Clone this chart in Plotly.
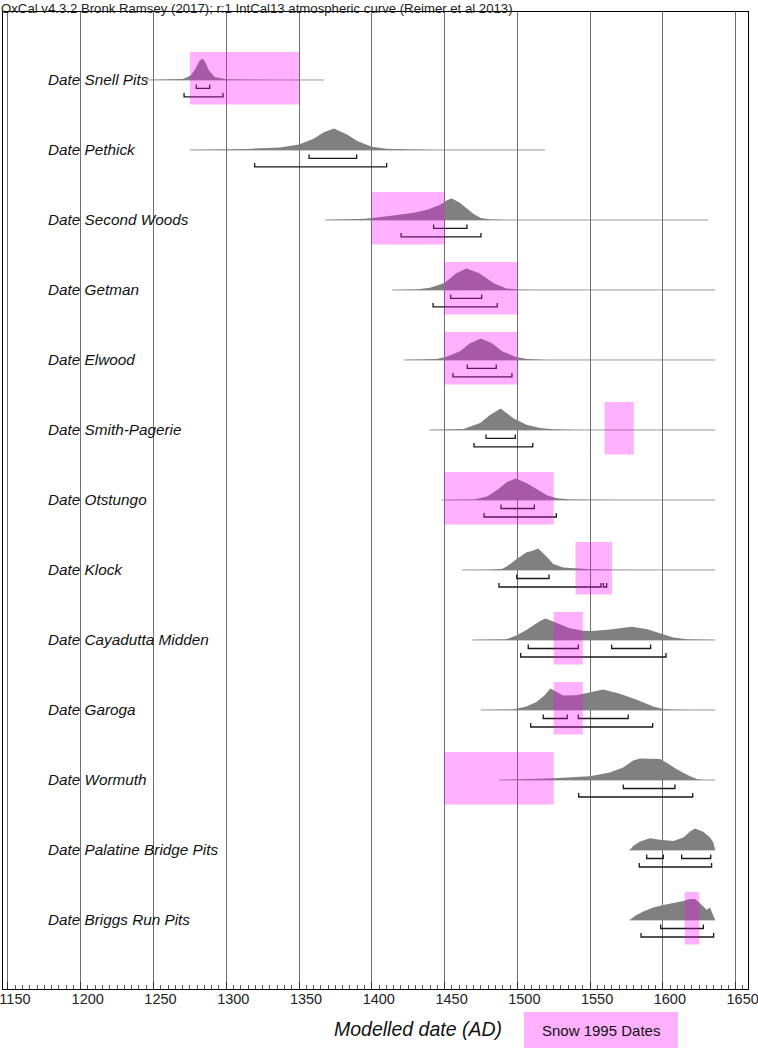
import plotly.graph_objects as go

# ---------------- data ----------------
sites = ["Snell Pits", "Pethick", "Second Woods", "Getman", "Elwood", "Smith-Pagerie",
         "Otstungo", "Klock", "Cayadutta Midden", "Garoga", "Wormuth",
         "Palatine Bridge Pits", "Briggs Run Pits"]

# modelled probability densities (relative to each peak)
snell_years = [1245, 1261, 1270, 1275.5, 1279, 1281.5, 1283.5, 1285.5, 1288, 1292, 1300, 1315, 1330]
snell_dens = [0, 0.01, 0.04, 0.2, 0.55, 0.88, 1.0, 0.85, 0.45, 0.14, 0.03, 0.01, 0]
pethick_years = [1275, 1300, 1314, 1337, 1350, 1360, 1367, 1374, 1383, 1390, 1400, 1410, 1425, 1445]
pethick_dens = [0, 0.02, 0.05, 0.12, 0.26, 0.52, 0.83, 1.0, 0.72, 0.42, 0.15, 0.06, 0.02, 0]
second_woods_years = [1368, 1385, 1395, 1405, 1418, 1428, 1438, 1447, 1452, 1455, 1460, 1465, 1470, 1475, 1482, 1492]
second_woods_dens = [0, 0.02, 0.06, 0.13, 0.22, 0.32, 0.48, 0.71, 0.93, 1.0, 0.82, 0.55, 0.28, 0.09, 0.02, 0]
getman_years = [1414, 1430, 1440, 1450, 1458, 1465, 1474, 1483.5, 1492.5, 1502, 1512]
getman_dens = [0, 0.02, 0.1, 0.33, 0.78, 1.0, 0.78, 0.33, 0.07, 0.01, 0]
elwood_years = [1422, 1435, 1444.6, 1451.4, 1460.6, 1467.5, 1475, 1482.6, 1489.5, 1498.6, 1506.5, 1520]
elwood_dens = [0, 0.01, 0.05, 0.15, 0.4, 0.78, 1.0, 0.78, 0.4, 0.15, 0.04, 0]
smith_years = [1440, 1455, 1463, 1474.4, 1481.2, 1488.6, 1497.2, 1506.4, 1515.6, 1524.7, 1540]
smith_dens = [0, 0.01, 0.05, 0.32, 0.7, 1.0, 0.55, 0.24, 0.09, 0.03, 0]
otstungo_years = [1450, 1462, 1470.3, 1479.5, 1486.3, 1493.2, 1499, 1506.9, 1513.8, 1520.6, 1527.5, 1536.6, 1550, 1570]
otstungo_dens = [0, 0.005, 0.02, 0.17, 0.47, 0.85, 1.0, 0.77, 0.47, 0.21, 0.08, 0.02, 0.005, 0]
klock_years = [1462, 1480, 1489.8, 1493.2, 1499.1, 1506.4, 1510, 1514.4, 1520.2, 1524.7, 1531.6, 1540.8, 1550, 1565, 1580]
klock_dens = [0, 0.01, 0.06, 0.18, 0.49, 0.83, 0.88, 1.0, 0.62, 0.28, 0.12, 0.06, 0.03, 0.01, 0]
cayadutta_years = [1469, 1485, 1492.4, 1500, 1506.2, 1511.9, 1516.5, 1519.5, 1525.2, 1536, 1545.2, 1552,
                   1563.6, 1578.5, 1588.8, 1598, 1607.2, 1616.4, 1625.5, 1636]
cayadutta_dens = [0, 0.01, 0.03, 0.23, 0.46, 0.72, 0.92, 1.0, 0.85, 0.54, 0.43, 0.42,
                  0.49, 0.62, 0.51, 0.31, 0.11, 0.03, 0.01, 0]
garoga_years = [1475, 1490, 1497, 1506.2, 1513.1, 1518.8, 1522.7, 1531.4, 1540.6, 1559, 1570.5, 1582,
                1593.4, 1600.3, 1609.5, 1620]
garoga_dens = [0, 0.005, 0.02, 0.16, 0.37, 0.68, 1.0, 0.67, 0.68, 0.95, 0.76, 0.48, 0.16, 0.05, 0.01, 0]
wormuth_years = [1487.5, 1505, 1524.5, 1549.8, 1563.6, 1572.7, 1579.6, 1584.2, 1598, 1602.6, 1609.5, 1618.7, 1623.3, 1628]
wormuth_dens = [0, 0.03, 0.08, 0.17, 0.35, 0.58, 0.91, 1.0, 0.97, 0.8, 0.5, 0.17, 0.05, 0]
palatine_years = [1577.4, 1579.7, 1584.3, 1591.2, 1598.0, 1607.2, 1614.1, 1618.7, 1622.1, 1627.8, 1632.4, 1634.7, 1635.9]
palatine_dens = [0, 0.2, 0.4, 0.54, 0.48, 0.42, 0.58, 0.86, 1.0, 0.85, 0.58, 0.35, 0]
briggs_years = [1577.4, 1580.8, 1586.5, 1593.4, 1600.3, 1607.2, 1614.1, 1618.7, 1622.1, 1625.5, 1630.1, 1632.4, 1634.7, 1635.9]
briggs_dens = [0, 0.18, 0.4, 0.58, 0.7, 0.78, 0.88, 0.97, 0.97, 0.78, 0.48, 0.58, 0.25, 0]

densities = [
    (snell_years, snell_dens), (pethick_years, pethick_dens), (second_woods_years, second_woods_dens),
    (getman_years, getman_dens), (elwood_years, elwood_dens), (smith_years, smith_dens),
    (otstungo_years, otstungo_dens), (klock_years, klock_dens), (cayadutta_years, cayadutta_dens),
    (garoga_years, garoga_dens), (wormuth_years, wormuth_dens), (palatine_years, palatine_dens),
    (briggs_years, briggs_dens),
]

# calculation span of each distribution (thin base line)
span_start = [1244, 1275, 1368, 1414, 1422, 1439.5, 1448, 1462, 1469, 1475, 1487.5, 1577, 1577]
span_end = [1367, 1519, 1631, 1636, 1636, 1636, 1636, 1636, 1636, 1636, 1636, 1636, 1636]

# highest posterior density ranges
range68 = [
    [(1279.4, 1288.6)], [(1356.9, 1389.6)], [(1442.5, 1465.4)], [(1454.2, 1475.5)],
    [(1465.6, 1485.5)], [(1478.5, 1498.6)], [(1488.8, 1511.7)], [(1499.6, 1521.8)],
    [(1507.5, 1541.9), (1564.8, 1591.6)], [(1517.8, 1534.3), (1541.9, 1576.2)],
    [(1572.8, 1608.3)], [(1588.9, 1600.3), (1612.9, 1632.9)], [(1598.5, 1627.8)],
]
range95 = [
    [(1271.0, 1297.8)], [(1319.5, 1410.2)], [(1420.1, 1475.0)], [(1442.1, 1486.2)],
    [(1455.8, 1496.3)], [(1470.2, 1510.6)], [(1477.1, 1526.8)],
    [(1487.4, 1557.5), (1559.1, 1561.4)], [(1502.3, 1602.2)], [(1509.2, 1593.0)],
    [(1542.2, 1620.5)], [(1583.8, 1633.5)], [(1585.0, 1634.9)],
]

# Snow 1995 dates: (site index, start, end)
snow_site = [0, 2, 3, 4, 5, 6, 7, 8, 9, 10, 12]
snow_start = [1275, 1400, 1450, 1450, 1560, 1450, 1540, 1525, 1525, 1450, 1615]
snow_end = [1350, 1450, 1500, 1500, 1580, 1525, 1565, 1545, 1545, 1525, 1625]

title_text = "OxCal v4.3.2 Bronk Ramsey (2017); r:1 IntCal13 atmospheric curve (Reimer et al 2013)"
x_title = "Modelled date (AD)"
legend_text = "Snow 1995 Dates"

# ---------------- style ----------------
PX = 70.0                 # pixels per row unit
PEAK = 21.5 / PX          # peak height
OFF68 = 8.5 / PX
OFF95 = 17.0 / PX
TICKH = 4.0 / PX
BOX_TOP = 28.0 / PX
BOX_BOT = 24.5 / PX
PINK = "rgba(255,0,255,0.31)"
GRAY = "#808080"
FONT = "Liberation Sans, Arial, sans-serif"

fig = go.Figure()

for i, (yrs, ds) in enumerate(densities):
    fig.add_trace(go.Scatter(x=[span_start[i], span_end[i]], y=[i, i], mode="lines",
                             line=dict(color="rgba(110,110,110,0.7)", width=1),
                             hoverinfo="skip", showlegend=False))
    xs = list(yrs) + [yrs[-1], yrs[0]]
    ys = [i - d * PEAK for d in ds] + [i, i]
    fig.add_trace(go.Scatter(x=xs, y=ys, mode="lines", fill="toself", fillcolor=GRAY,
                             line=dict(color=GRAY, width=0),
                             hoverinfo="skip", showlegend=False))

bx, by = [], []
for i in range(len(sites)):
    for ranges, off in ((range68[i], OFF68), (range95[i], OFF95)):
        for a, b in ranges:
            y0 = i + off
            bx += [a, a, b, b, None]
            by += [y0 - TICKH, y0, y0, y0 - TICKH, None]
fig.add_trace(go.Scatter(x=bx, y=by, mode="lines", line=dict(color="#1a1a1a", width=1.3),
                         hoverinfo="skip", showlegend=False))

for s, a, b in zip(snow_site, snow_start, snow_end):
    fig.add_shape(type="rect", xref="x", yref="y", x0=a, x1=b, y0=s - BOX_TOP, y1=s + BOX_BOT,
                  fillcolor=PINK, line=dict(width=0), layer="above")

# row labels
for i, name in enumerate(sites):
    fig.add_annotation(x=(46 - 3) / 745, xref="paper", y=i, yref="y",
                       text="<i>Date " + name + "</i>",
                       showarrow=False, xanchor="left", yanchor="middle",
                       font=dict(family=FONT, size=15.3, color="#111"))

# title (top edge of the page)
fig.add_annotation(x=-3 / 745, xref="paper", y=1 + 12 / 977, yref="paper", text=title_text,
                   showarrow=False, xanchor="left", yanchor="top", borderpad=0,
                   font=dict(family=FONT, size=13.2, color="#222"))

# x title
fig.add_annotation(x=(418 - 3) / 745, xref="paper", y=(989 - 1029) / 977, yref="paper",
                   text="<i>" + x_title + "</i>", showarrow=False, xanchor="center", yanchor="middle",
                   font=dict(family=FONT, size=19.5, color="#111"))

# legend box
fig.add_shape(type="rect", xref="paper", yref="paper",
              x0=(524 - 3) / 745, x1=(678 - 3) / 745, y0=(989 - 1050) / 977, y1=(989 - 1012) / 977,
              fillcolor="#FFB0FF", line=dict(width=0))
fig.add_annotation(x=(601 - 3) / 745, xref="paper", y=(989 - 1030) / 977, yref="paper",
                   text=legend_text, showarrow=False, xanchor="center", yanchor="middle",
                   font=dict(family=FONT, size=15, color="#111"))

fig.update_layout(
    width=758, height=1048,
    margin=dict(l=3, r=10, t=12, b=59, autoexpand=False),
    paper_bgcolor="white", plot_bgcolor="white",
    showlegend=False,
    xaxis=dict(range=[1146.6, 1658.5], tick0=1150, dtick=50, showgrid=True, gridcolor="#6e6e6e",
               gridwidth=1, zeroline=False, showline=True, linecolor="black", linewidth=1,
               mirror=True, ticks="inside", ticklen=7, tickcolor="#333",
               minor=dict(dtick=5, tick0=1150, ticks="inside", ticklen=4, tickcolor="#555", showgrid=False),
               tickfont=dict(family=FONT, size=14.5, color="#222"),
               ticklabelshift=7, ticklabelstandoff=-3, ticklabeloverflow="allow", automargin=False),
    yaxis=dict(range=[12.986, -0.971], showgrid=False, zeroline=False, showticklabels=False,
               showline=True, linecolor="black", linewidth=1, mirror=True, ticks="", automargin=False),
)

fig.write_html("out.html", config={"displayModeBar": False},
               post_script="document.body.style.margin='0';document.body.style.overflow='hidden';")
